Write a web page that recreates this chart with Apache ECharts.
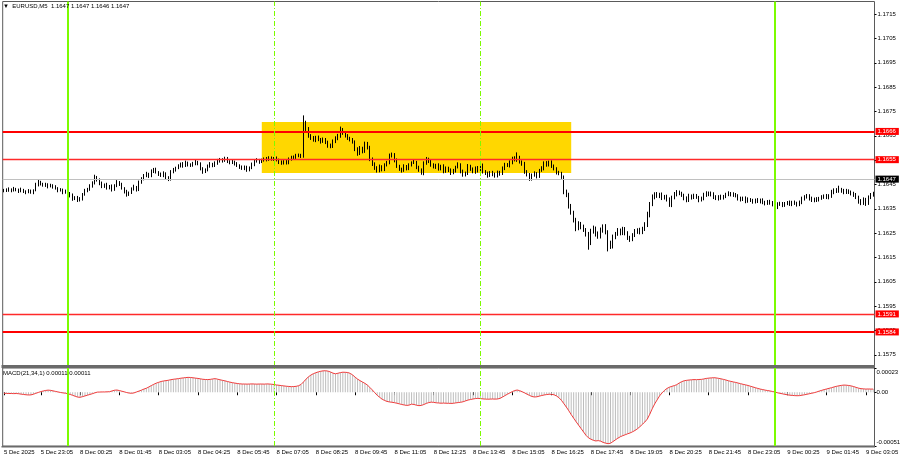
<!DOCTYPE html>
<html><head><meta charset="utf-8">
<script src="https://cdn.jsdelivr.net/npm/echarts@6/dist/echarts.min.js"></script>
<style>html,body{margin:0;padding:0;background:#fff}#c{width:900px;height:460px}</style>
</head><body><div id="c"></div>
<script>
// ---------- DATA ----------
const symbolTitle = '\u25BC  EURUSD,M5  1.1647 1.1647 1.1646 1.1647';
const macdTitle = 'MACD(21,34,1) 0.00011 0.00011';
const pipBase = 1.16;          // prices below are in pips above 1.16000
const firstOpen = 42.3;
const closePips = [
42.6,43.0,42.4,42.9,43.3,42.7,42.2,42.8,42.1,41.9,
42.4,41.8,42.6,44.8,45.9,45.3,44.6,45.0,44.2,44.7,
43.9,43.4,42.5,42.9,41.8,42.2,41.3,40.4,39.2,39.8,
38.6,39.1,40.9,42.4,43.1,44.2,45.6,47.9,47.0,45.4,
44.1,44.8,43.6,44.3,42.9,44.5,46.0,45.1,43.4,42.1,
40.9,41.6,43.2,44.0,42.9,45.8,47.4,48.6,49.3,48.5,
50.4,51.2,50.1,49.3,48.6,49.5,47.8,47.1,50.2,51.0,
51.8,52.6,53.4,52.7,53.9,53.1,52.8,53.6,54.3,53.5,
51.6,50.3,50.9,52.6,53.4,52.7,53.8,54.6,55.3,54.8,
55.7,54.5,53.9,54.4,53.6,52.8,52.1,51.5,52.2,51.0,
51.8,53.2,54.6,55.1,54.3,55.0,55.6,55.2,56.0,55.4,
55.9,55.1,54.2,53.7,54.5,53.9,55.3,56.2,55.8,56.7,
57.1,56.6,70.2,67.8,65.1,64.0,63.2,64.3,63.5,62.7,
63.6,62.4,61.0,60.6,62.8,63.9,64.8,67.4,66.2,65.0,
64.1,63.3,62.5,59.6,57.8,59.9,58.6,61.8,60.3,55.6,
53.4,51.9,50.6,52.4,51.2,53.0,54.1,56.8,57.3,55.0,
52.6,51.3,50.8,52.5,51.6,53.0,53.9,54.2,52.1,50.9,
49.5,53.7,55.4,54.6,53.0,52.2,52.9,51.4,52.6,50.5,
51.8,50.9,49.8,50.6,52.1,53.2,50.4,48.9,49.7,52.6,
51.3,50.2,51.8,50.6,53.1,50.3,49.6,48.7,50.0,49.2,
48.5,50.1,49.4,51.6,53.2,52.8,54.0,55.6,55.1,56.0,
54.3,53.6,50.4,49.1,47.3,48.8,49.6,48.4,50.8,51.6,
53.8,53.0,54.2,52.7,51.5,49.9,49.4,48.2,42.0,40.6,
36.2,33.5,30.4,27.0,28.8,27.6,26.4,24.9,21.0,25.8,
26.9,24.8,23.6,26.2,27.9,25.6,21.0,19.5,23.4,24.7,
26.0,25.1,26.8,24.9,23.3,22.6,24.2,25.7,26.3,25.4,
26.8,28.5,32.6,36.9,39.8,41.0,40.2,40.9,39.5,40.1,
38.8,36.7,39.6,40.9,41.8,41.2,40.6,39.4,38.5,40.3,
39.6,40.4,39.8,38.6,39.2,40.7,41.5,40.8,41.3,39.9,
39.2,40.0,39.4,40.2,40.9,41.3,40.7,41.0,40.4,39.3,
38.8,39.5,38.2,38.9,38.4,37.9,38.6,38.0,38.7,37.6,
37.2,38.1,37.4,36.9,35.6,36.8,37.3,36.5,37.1,37.6,
36.9,37.8,37.2,36.8,37.5,39.2,39.9,40.5,39.3,38.4,
39.0,38.6,39.4,39.9,40.3,39.6,40.1,41.8,42.7,42.2,
43.0,42.4,41.7,42.5,41.9,41.2,40.8,39.8,38.1,37.4,
38.9,37.3,39.6,40.8,41.5];
const upWick = [
0.6,0.4,0.8,0.5,0.7,0.3,0.6,0.9,0.4,0.5,
0.7,0.5,0.4,0.9,1.0,0.6,0.4,0.7,0.5,0.6,
0.4,0.8,0.5,0.6,0.4,0.7,0.5,0.6,0.9,0.4,
0.5,0.7,0.6,0.8,0.5,0.9,0.7,1.1,0.6,0.5,
0.8,0.6,0.9,0.5,0.7,0.6,0.8,0.4,0.6,0.5,
0.7,0.5,0.6,0.9,0.4,0.8,0.6,0.7,0.9,0.5,
0.8,0.6,0.7,0.4,0.6,0.9,0.5,0.6,0.7,0.8,
0.5,0.7,0.6,0.8,0.9,0.5,0.6,0.7,0.8,0.4,
0.6,0.5,0.7,0.6,0.8,0.5,0.7,0.9,0.6,0.5,
0.7,0.6,0.5,0.8,0.4,0.6,0.5,0.7,0.6,0.5,
0.6,0.8,0.5,0.7,0.4,0.6,0.5,0.7,0.6,0.5,
0.4,0.6,0.5,0.7,0.5,0.6,0.8,0.6,0.7,0.9,
0.6,0.5,3.2,1.0,0.8,0.6,0.9,0.7,0.8,0.6,
0.7,0.5,0.6,0.8,0.7,0.9,1.0,1.4,0.8,0.6,
0.7,0.5,0.8,0.6,0.7,0.9,0.6,0.8,0.7,0.6,
0.5,0.7,0.6,0.8,0.5,0.7,0.6,0.9,0.8,0.6,
0.7,0.5,0.6,0.8,0.5,0.7,0.6,0.9,0.5,0.6,
0.7,0.8,0.9,0.6,0.5,0.7,0.6,0.8,0.5,0.7,
0.6,0.5,0.7,0.8,0.6,0.9,0.5,0.7,0.6,0.8,
0.5,0.7,0.6,0.8,0.9,0.5,0.6,0.7,0.5,0.6,
0.7,0.6,0.5,0.8,0.7,0.6,0.9,0.8,1.0,2.2,
0.8,0.6,0.7,0.5,0.6,0.7,0.8,0.5,0.6,0.9,
0.7,0.8,0.6,0.7,0.5,0.6,0.7,0.8,0.5,0.9,
1.0,0.8,0.7,0.9,1.1,0.8,0.9,0.7,0.6,1.0,
1.2,0.8,0.9,1.1,0.7,0.8,0.6,0.9,1.0,0.8,
1.1,0.9,0.8,0.7,0.9,0.6,0.8,1.0,0.7,0.9,
0.8,1.0,1.2,0.9,1.1,0.8,0.9,0.7,0.8,0.6,
0.7,0.9,0.8,1.0,0.9,0.7,0.8,0.6,0.7,0.9,
0.6,0.8,0.7,0.5,0.8,0.9,0.7,0.6,0.8,0.5,
0.7,0.6,0.8,0.5,0.7,0.9,0.6,0.8,0.5,0.6,
0.7,0.5,0.6,0.8,0.5,0.7,0.6,0.8,0.5,0.6,
0.7,0.5,0.6,0.8,0.7,0.9,0.6,0.5,0.7,0.6,
0.8,0.5,0.6,0.7,0.9,0.8,0.7,0.6,0.5,0.7,
0.6,0.8,0.5,0.7,0.6,0.8,0.9,1.0,0.7,0.8,
1.5,0.6,0.8,0.7,0.5,0.6,0.8,0.7,0.6,0.9,
0.8,0.6,0.9,0.7,0.5];
const dnWick = [
0.5,0.7,0.4,0.6,0.8,0.5,0.7,0.4,0.6,0.9,
0.5,0.6,0.8,0.4,0.6,0.7,0.5,0.6,0.8,0.4,
0.6,0.5,0.7,0.4,0.8,0.6,1.0,0.7,0.9,0.6,
0.8,0.6,0.7,0.5,0.6,0.7,0.5,0.6,0.8,0.7,
0.6,0.5,0.7,0.6,0.8,0.5,0.6,0.7,0.5,0.8,
0.9,0.6,0.5,0.7,0.8,0.6,0.5,0.7,0.6,0.8,
0.5,0.7,0.6,0.8,0.5,0.6,0.9,0.7,0.5,0.6,
0.7,0.5,0.6,0.8,0.5,0.7,0.6,0.5,0.7,0.6,
0.8,0.9,0.6,0.5,0.7,0.6,0.5,0.7,0.6,0.8,
0.5,0.7,0.6,0.5,0.8,0.6,0.7,0.5,0.6,0.8,
0.6,0.5,0.7,0.6,0.8,0.5,0.6,0.7,0.5,0.6,
0.7,0.6,0.8,0.6,0.5,0.7,0.6,0.5,0.7,0.6,
0.5,0.7,0.6,0.8,0.9,0.7,0.6,0.8,0.7,0.9,
0.6,0.8,0.9,0.7,0.6,0.8,0.7,0.6,0.8,0.7,
0.8,0.6,0.7,0.9,1.0,0.7,0.8,0.6,0.9,1.0,
0.8,0.9,0.7,0.6,0.8,0.7,0.6,0.8,0.7,0.9,
0.8,0.7,0.9,0.6,0.8,0.7,0.6,0.5,0.8,0.7,
0.5,0.7,0.6,0.8,0.7,0.6,0.8,0.7,0.6,0.9,
0.7,0.8,0.9,0.6,0.7,0.5,0.8,0.7,0.6,0.8,
0.7,0.6,0.8,0.7,0.5,0.8,0.7,0.9,0.6,0.8,
0.7,0.6,0.8,0.5,0.7,0.6,0.8,0.7,0.6,0.8,
0.7,0.9,1.0,0.8,0.8,0.7,0.6,0.9,0.7,0.6,
0.8,0.7,0.6,0.9,0.7,0.8,0.6,0.9,1.0,0.8,
1.1,0.9,1.0,1.2,0.8,1.0,0.9,1.3,2.8,0.9,
1.0,1.2,0.9,0.8,1.0,1.1,3.5,1.0,0.8,0.9,
0.8,1.0,0.9,0.8,1.1,1.2,0.9,0.8,1.0,0.9,
0.8,0.9,1.0,1.1,0.8,0.9,0.7,0.8,0.9,0.7,
0.8,0.9,1.0,0.7,0.8,0.6,0.7,0.9,0.8,0.7,
0.8,0.6,0.7,0.9,0.6,0.7,0.8,0.6,0.7,0.9,
0.6,0.8,0.7,0.6,0.8,0.7,0.6,0.8,0.7,0.9,
0.8,0.6,0.9,0.7,0.6,0.8,0.7,0.6,0.8,0.7,
0.8,0.6,0.7,0.9,1.0,0.7,0.6,0.8,0.7,0.6,
0.7,0.8,0.6,0.9,0.7,0.6,0.8,0.7,0.9,0.6,
0.7,0.8,0.6,0.7,0.8,0.6,0.7,0.6,0.8,0.7,
0.6,0.8,0.7,0.6,0.8,0.7,0.9,0.8,1.0,0.9,
0.8,1.1,0.7,0.6,0.8];
// MACD main values, in units of 0.00001
const macdVals = [
-1.0,-1.1,-1.2,-1.2,-1.3,-1.2,-1.4,-1.8,-2.1,-2.4,
-2.6,-2.5,-1.9,-1.0,-0.2,0.6,1.2,1.7,2.0,1.8,
1.3,0.8,0.3,-0.2,-0.6,-0.9,-1.4,-2.1,-2.9,-3.8,
-4.6,-4.8,-4.2,-3.5,-2.8,-2.1,-1.4,-0.6,0.1,0.2,
0.3,0.3,0.4,0.5,1.2,1.9,2.1,1.6,1.0,0.4,
-0.3,-0.8,-1.0,-0.6,0.3,1.1,2.0,3.0,3.8,5.0,
6.3,7.5,8.6,9.4,10.2,10.7,11.0,11.4,11.9,12.3,
12.6,12.9,13.3,13.6,13.9,14.1,14.0,13.7,13.4,13.1,
12.7,12.3,12.1,12.0,12.2,12.6,12.9,12.4,11.8,11.3,
10.8,10.2,9.6,9.1,8.7,8.3,8.0,7.8,7.8,7.7,
7.8,7.9,7.8,7.7,7.8,7.8,7.7,7.9,7.8,7.6,
7.3,6.9,6.6,6.3,6.0,5.7,5.5,5.3,5.4,5.6,
6.2,7.4,9.8,12.4,14.6,16.3,17.6,18.5,19.3,19.9,
20.3,20.4,20.0,19.2,18.1,17.5,18.0,18.6,19.0,18.9,
18.7,17.9,16.4,14.3,12.5,11.0,9.7,8.4,6.8,4.6,
2.2,-0.4,-2.9,-4.8,-6.6,-7.8,-8.7,-9.2,-9.5,-9.9,
-10.4,-11.0,-11.6,-12.1,-12.5,-12.2,-11.3,-11.6,-12.3,-12.7,
-12.5,-11.6,-10.6,-9.8,-9.4,-9.6,-10.0,-10.2,-10.4,-10.3,
-10.4,-10.5,-10.6,-10.5,-10.1,-9.8,-9.5,-9.0,-8.2,-7.4,
-6.9,-6.4,-6.0,-5.8,-6.0,-6.3,-6.5,-6.6,-6.5,-6.4,
-6.5,-6.4,-5.8,-4.6,-3.2,-1.9,-0.7,0.6,1.6,2.1,
1.5,0.5,-0.6,-1.8,-3.0,-4.0,-4.5,-4.3,-3.7,-3.1,
-2.6,-2.2,-1.9,-2.0,-2.4,-3.5,-5.2,-7.6,-10.8,-14.0,
-17.5,-21.2,-24.6,-28.0,-31.2,-34.4,-37.6,-40.8,-43.2,-44.5,
-45.6,-46.2,-45.9,-46.4,-47.6,-48.3,-48.8,-48.4,-46.8,-45.2,
-43.6,-42.2,-41.2,-40.3,-39.4,-38.6,-37.5,-36.2,-34.6,-32.6,
-30.4,-28.2,-25.4,-20.8,-15.6,-11.0,-7.2,-3.4,-0.6,1.8,
3.6,4.8,5.6,6.3,7.2,8.8,10.0,10.9,11.3,11.6,
11.8,12.0,11.9,12.1,12.2,12.6,13.1,13.4,13.6,13.8,
13.6,13.2,12.7,12.2,11.6,10.9,10.3,9.8,9.3,8.7,
8.1,7.5,7.0,6.4,5.7,5.0,4.3,3.6,3.0,2.5,
2.0,1.6,1.2,0.7,0.2,-0.5,-1.0,-1.5,-2.0,-2.4,
-2.8,-3.0,-3.2,-3.3,-3.2,-2.8,-2.4,-1.9,-1.4,-0.9,
-0.4,0.3,1.1,1.8,2.5,3.1,3.7,4.3,5.0,5.6,
6.1,6.5,6.8,6.7,6.4,6.0,5.4,4.6,3.9,3.4,
3.2,3.0,3.1,3.0,3.0];
const timeTickLabels = ['5 Dec 2025','5 Dec 23:05','8 Dec 00:25','8 Dec 01:45','8 Dec 03:05','8 Dec 04:25',
  '8 Dec 05:45','8 Dec 07:05','8 Dec 08:25','8 Dec 09:45','8 Dec 11:05','8 Dec 12:25','8 Dec 13:45',
  '8 Dec 15:05','8 Dec 16:25','8 Dec 17:45','8 Dec 19:05','8 Dec 20:25','8 Dec 21:45','8 Dec 23:05',
  '9 Dec 00:25','9 Dec 01:45','9 Dec 03:05'];
const priceTicks = [1.1715,1.1705,1.1695,1.1685,1.1675,1.1665,1.1655,1.1645,1.1635,1.1625,1.1615,1.1605,1.1595,1.1585,1.1575];
const priceTickLabels = ['1.1715','1.1705','1.1695','1.1685','1.1675','1.1665','1.1655','1.1645','1.1635','1.1625','1.1615','1.1605','1.1595','1.1585','1.1575'];
const levelValues = [1.16668, 1.16552, 1.15918, 1.15844];
const levelLabels = ['1.1666', '1.1655', '1.1591', '1.1584'];
const bidValue = 1.16472, bidLabel = '1.1647';
const zoneFrom = '8 Dec 06:35', zoneTo = '8 Dec 17:05', zoneTop = 1.16707, zoneBottom = 1.16497;
const dayLines = ['8 Dec 00:00', '9 Dec 00:00'];
const sessionLines = ['8 Dec 07:00', '8 Dec 14:00'];
const macdTicks = [0.00023, 0, -0.00051];
const macdTickLabels = ['0.00023', '0.00', '-0.00051'];

// ---------- build ----------
const MONTHS = ['Jan','Feb','Mar','Apr','May','Jun','Jul','Aug','Sep','Oct','Nov','Dec'];
const pad = n => (n < 10 ? '0' : '') + n;
const categories = [];
let t = Date.UTC(2025, 11, 5, 21, 50);
while (categories.length < closePips.length) {
  const d = new Date(t);
  const wd = d.getUTCDay();
  if (wd !== 0 && wd !== 6) categories.push(d.getUTCDate() + ' ' + MONTHS[d.getUTCMonth()] + ' ' + pad(d.getUTCHours()) + ':' + pad(d.getUTCMinutes()));
  t += 300000;
}
const toPrice = p => +(pipBase + p / 10000).toFixed(5);
const candles = closePips.map((c, i) => {
  const o = i === 0 ? firstOpen : closePips[i - 1];
  const hi = Math.max(o, c) + upWick[i];
  const lo = Math.min(o, c) - dnWick[i];
  return [toPrice(o), toPrice(c), toPrice(lo), toPrice(hi)];
});
const macd = macdVals.map(v => +(v * 1e-5).toFixed(7));
const tickSet = new Set(timeTickLabels);
const showTick = (idx) => idx === 0 || tickSet.has(categories[idx]);
const nearestIdx = (arr, v) => { let b = 0; arr.forEach((a, i) => { if (Math.abs(a - v) < Math.abs(arr[b] - v)) b = i; }); return b; };

const FONT = 'Liberation Sans, Arial, sans-serif';
const FS = 6;
const GREEN = '#7cfc00';
const L = 2.7, R = 25.5;

const vLines = () => dayLines.map(v => ({ xAxis: v, lineStyle: { color: GREEN, width: 2, type: 'solid' } }))
  .concat(sessionLines.map(v => ({ xAxis: v, lineStyle: { color: GREEN, width: 1, type: [5, 2, 1, 2] } })));
const boxLabel = (txt, bg) => ({ show: true, position: 'end', formatter: txt, color: '#fff', backgroundColor: bg,
  padding: [1, 3, 0, 2], fontSize: FS, distance: 1, fontFamily: FONT });

const chart = echarts.init(document.getElementById('c'), null, { renderer: 'canvas' });
chart.setOption({
  animation: false,
  backgroundColor: '#ffffff',
  textStyle: { fontFamily: FONT },
  title: [
    { text: symbolTitle, left: 3, top: 3, padding: 0, textStyle: { fontSize: FS, fontWeight: 'normal', color: '#000', fontFamily: FONT } },
    { text: macdTitle, left: 3, top: 370, padding: 0, textStyle: { fontSize: FS, fontWeight: 'normal', color: '#000', fontFamily: FONT } }
  ],
  grid: [
    { left: L, right: R, top: 1.5, height: 364.5, show: true, borderColor: '#5a5a5a', borderWidth: 1, backgroundColor: 'transparent',
      containLabel: false, outerBoundsMode: 'none' },
    { left: L, right: R, top: 368, height: 78, show: true, borderColor: '#5a5a5a', borderWidth: 1, backgroundColor: 'transparent',
      containLabel: false, outerBoundsMode: 'none' }
  ],
  graphic: [
    { type: 'rect', shape: { x: 1.5, y: 365, width: 873.5, height: 3 }, style: { fill: '#6a6a6a' }, z: 100 },
    { type: 'rect', shape: { x: 1.5, y: 446, width: 873.5, height: 1.5 }, style: { fill: '#6a6a6a' }, z: 100 }
  ],
  xAxis: [
    { type: 'category', gridIndex: 0, data: categories, boundaryGap: true,
      axisLine: { show: false }, axisTick: { show: false }, axisLabel: { show: false }, splitLine: { show: false } },
    { type: 'category', gridIndex: 1, data: categories, boundaryGap: true,
      axisLine: { show: false },
      axisTick: { show: true, alignWithLabel: true, length: 3, interval: (i) => showTick(i), lineStyle: { color: '#000' } },
      axisLabel: { show: true, interval: (i) => showTick(i), align: 'left', margin: 3.5, fontSize: FS, color: '#000', fontFamily: FONT,
        hideOverlap: false, formatter: (v, i) => (i === 0 ? timeTickLabels[0] : v) },
      splitLine: { show: false } }
  ],
  yAxis: [
    { type: 'value', gridIndex: 0, position: 'right', min: 1.15704, max: 1.17202, splitLine: { show: false },
      axisLine: { show: false },
      axisTick: { show: true, length: 2, customValues: priceTicks, lineStyle: { color: '#000' } },
      axisLabel: { show: true, customValues: priceTicks, margin: 3, fontSize: FS, color: '#000', fontFamily: FONT,
        formatter: v => priceTickLabels[nearestIdx(priceTicks, v)] } },
    { type: 'value', gridIndex: 1, position: 'right', min: -0.00051, max: 0.00023, splitLine: { show: false },
      axisLine: { show: false },
      axisTick: { show: true, length: 2, customValues: macdTicks, lineStyle: { color: '#000' } },
      axisLabel: { show: true, customValues: macdTicks, margin: 2, fontSize: FS, color: '#000', fontFamily: FONT, lineHeight: 8,
        formatter: v => { const k = nearestIdx(macdTicks, v); const s = macdTickLabels[k]; return k === 0 ? '\n' + s : (k === 2 ? s + '\n' : s); } } }
  ],
  series: [
    { type: 'candlestick', xAxisIndex: 0, yAxisIndex: 0, data: candles, barWidth: 1.1, z: 3,
      itemStyle: { color: '#ffffff', color0: '#000000', borderColor: '#000000', borderColor0: '#000000', borderWidth: 1 },
      markArea: { silent: true, z: 1, itemStyle: { color: '#ffd700', opacity: 1 },
        data: [[{ xAxis: zoneFrom, yAxis: zoneTop }, { xAxis: zoneTo, yAxis: zoneBottom }]] }
    },
    // helper series (no data) that carries the level lines of the price pane
    { type: 'line', xAxisIndex: 0, yAxisIndex: 0, data: [], z: 5,
      markLine: { silent: true, symbol: 'none', animation: false, precision: 6,
        data: [
          { yAxis: bidValue, lineStyle: { color: '#c0c0c0', width: 1, type: 'solid' }, label: boxLabel(bidLabel, '#000000') }
        ].concat(levelValues.map((v, k) => ({ yAxis: v,
            lineStyle: { color: (k === 0 || k === 3) ? '#ff0000' : '#ff2a2a', width: (k === 0 || k === 3) ? 2 : 1.3, type: 'solid' },
            label: boxLabel(levelLabels[k], '#ff0000') })))
        .concat(vLines().map(d => Object.assign(d, { label: { show: false } })))
      }
    },
    { type: 'bar', xAxisIndex: 1, yAxisIndex: 1, data: macd, barWidth: 1, itemStyle: { color: '#bdbdbd' }, z: 2 },
    { type: 'line', xAxisIndex: 1, yAxisIndex: 1, data: macd, symbol: 'none', z: 3,
      lineStyle: { color: '#f03c3c', width: 1 },
      markLine: { silent: true, symbol: 'none', animation: false, precision: 6, label: { show: false }, data: vLines() } }
  ]
});
</script>
</body></html>
